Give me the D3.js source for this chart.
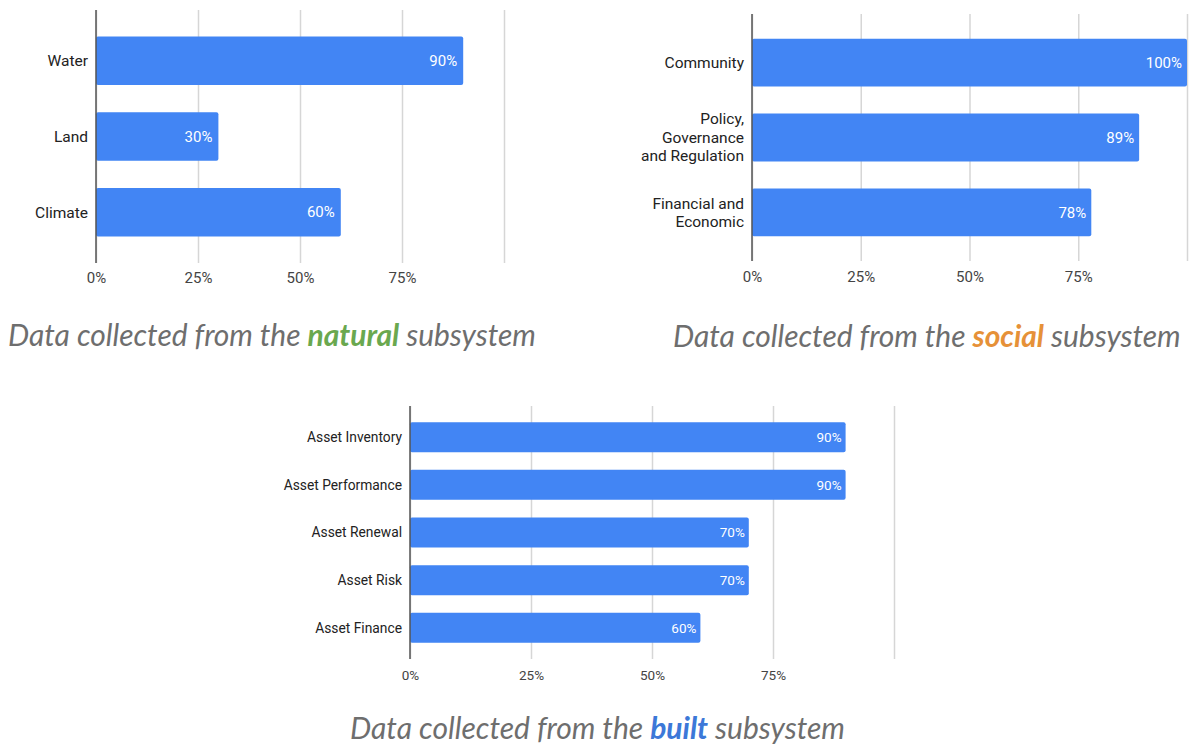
<!DOCTYPE html>
<html>
<head>
<meta charset="utf-8">
<script src="https://cdn.jsdelivr.net/npm/d3@7"></script>
<style>
  html, body { margin: 0; padding: 0; background: #fff; }
  svg { display: block; }
</style>
</head>
<body>
<svg id="chart" width="1191" height="751"></svg>
<script>
// Share of data collected per category, by subsystem (percent)
const naturalCategories = [["Water"], ["Land"], ["Climate"]];
const naturalValues = [90, 30, 60];

const socialCategories = [["Community"], ["Policy,", "Governance", "and Regulation"], ["Financial and", "Economic"]];
const socialValues = [100, 89, 78];

const builtCategories = [["Asset Inventory"], ["Asset Performance"], ["Asset Renewal"], ["Asset Risk"], ["Asset Finance"]];
const builtValues = [90, 90, 70, 70, 60];

const gridTicks = [0, 25, 50, 75, 100];
const labelTicks = [0, 25, 50, 75];

const captions = [
  { before: "Data collected from the ", word: "natural", after: " subsystem", color: "#6aa84f" },
  { before: "Data collected from the ", word: "social", after: " subsystem", color: "#e69138" },
  { before: "Data collected from the ", word: "built", after: " subsystem", color: "#3c78d8" }
];

const BAR = "#4285f4";
const svg = d3.select("#chart");

function drawPanel(cfg) {
  const data = cfg.categories.map((c, i) => ({ lines: c, value: cfg.values[i] }));
  const x = d3.scaleLinear().domain([0, 100]).range([cfg.x0, cfg.x1]);
  const y = d3.scaleBand()
    .domain(data.map((d, i) => i))
    .range([cfg.top, cfg.bottom])
    .paddingInner(cfg.padInner)
    .paddingOuter(cfg.padOuter);

  const g = svg.append("g");

  // vertical gridlines
  const grid = g.append("g")
    .attr("transform", `translate(0,${cfg.bottom})`)
    .call(d3.axisBottom(x).tickValues(gridTicks).tickSize(-(cfg.bottom - cfg.top)).tickFormat(""));
  grid.select(".domain").remove();
  grid.selectAll("line").attr("stroke", "#d6d6d6").attr("stroke-width", 1.5);

  // tick labels
  const ticks = g.append("g")
    .attr("transform", `translate(0,${cfg.tickY})`)
    .call(d3.axisBottom(x).tickValues(labelTicks).tickSize(0).tickPadding(0).tickFormat(d => d + "%"));
  ticks.select(".domain").remove();
  ticks.selectAll("text")
    .attr("dy", "0.35em")
    .attr("fill", "#444")
    .style("font-family", "Roboto, Arial, sans-serif")
    .style("font-size", cfg.tickSize + "px");

  // bars
  g.selectAll("rect.bar").data(data).enter().append("rect")
    .attr("class", "bar")
    .attr("x", x(0))
    .attr("y", (d, i) => y(i))
    .attr("width", d => x(d.value) - x(0))
    .attr("height", y.bandwidth())
    .attr("rx", 2)
    .attr("fill", BAR);

  // value labels inside bar ends
  g.selectAll("text.val").data(data).enter().append("text")
    .attr("class", "val")
    .attr("x", d => x(d.value) - cfg.valPad)
    .attr("y", (d, i) => y(i) + y.bandwidth() / 2)
    .attr("dy", "0.35em")
    .attr("text-anchor", "end")
    .attr("fill", "#fff")
    .style("font-family", "Roboto, Arial, sans-serif")
    .style("font-size", cfg.valSize + "px")
    .text(d => d.value + "%");

  // category labels (possibly multi-line)
  const cat = g.selectAll("text.cat").data(data).enter().append("text")
    .attr("class", "cat")
    .attr("text-anchor", "end")
    .attr("fill", "#222")
    .style("font-family", "Roboto, Arial, sans-serif")
    .style("font-size", cfg.catSize + "px");
  cat.each(function (d, i) {
    const cy = y(i) + y.bandwidth() / 2;
    const n = d.lines.length;
    d3.select(this).selectAll("tspan").data(d.lines).enter().append("tspan")
      .attr("x", cfg.x0 - cfg.catPad)
      .attr("y", (l, k) => cy + (k - (n - 1) / 2) * cfg.lineH)
      .attr("dy", "0.35em")
      .text(l => l);
  });

  // baseline axis
  g.append("line")
    .attr("x1", x(0)).attr("x2", x(0))
    .attr("y1", cfg.top).attr("y2", cfg.bottom)
    .attr("stroke", "#555").attr("stroke-width", 1.5);
}

function drawCaption(c, left, right, baseY) {
  const t = svg.append("text")
    .attr("y", baseY)
    .attr("fill", "#6e6e6e")
    .style("font-family", "Lato, 'Open Sans', sans-serif")
    .style("font-style", "italic")
    .style("font-size", "26px");
  t.append("tspan").text(c.before);
  t.append("tspan").attr("fill", c.color).style("font-weight", "bold").text(c.word);
  t.append("tspan").text(c.after);
  const w = t.node().getComputedTextLength();
  const size = 26 * (right - left) / w;
  t.style("font-size", size + "px").attr("x", left);
}

drawPanel({
  categories: naturalCategories, values: naturalValues,
  x0: 96, x1: 504, top: 10, bottom: 263, padInner: 0.36, padOuter: 0.35,
  tickY: 278, tickSize: 15, valSize: 15, valPad: 6, catSize: 15.5, catPad: 8, lineH: 18
});

drawPanel({
  categories: socialCategories, values: socialValues,
  x0: 752, x1: 1187, top: 14, bottom: 261, padInner: 0.36, padOuter: 0.33,
  tickY: 277, tickSize: 15, valSize: 15, valPad: 5, catSize: 15.5, catPad: 8, lineH: 18.5
});

drawPanel({
  categories: builtCategories, values: builtValues,
  x0: 410, x1: 894, top: 406, bottom: 659, padInner: 0.37, padOuter: 0.34,
  tickY: 675, tickSize: 13.5, valSize: 13.5, valPad: 4, catSize: 13.8, catPad: 8, lineH: 16
});

drawCaption(captions[0], 8, 536, 346);
drawCaption(captions[1], 673, 1181, 347);
drawCaption(captions[2], 350, 845, 739);
</script>
</body>
</html>
